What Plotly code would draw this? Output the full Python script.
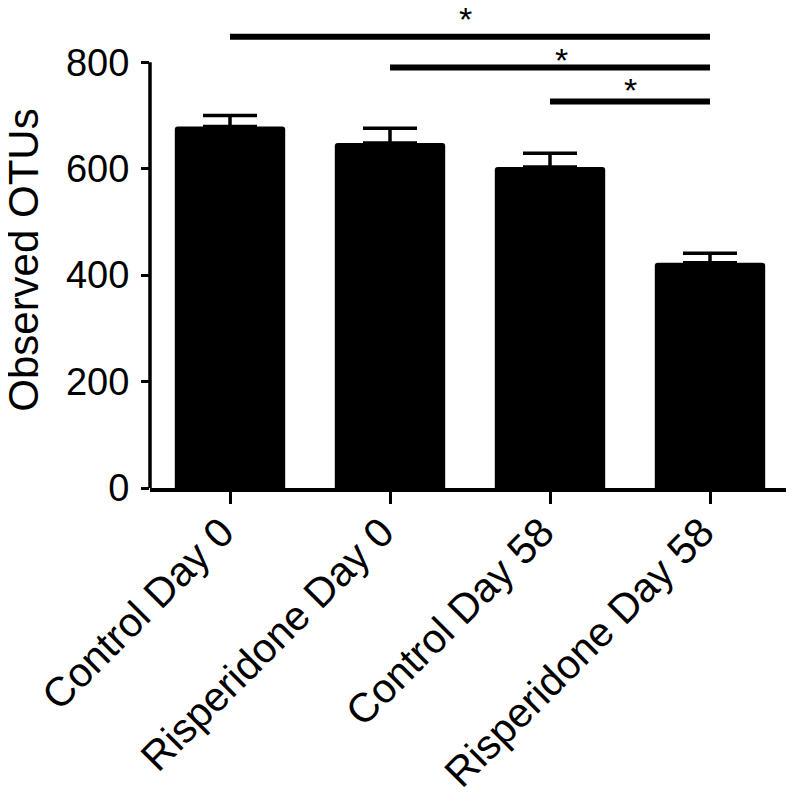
import plotly.graph_objects as go

# Observed OTUs per group (mean + SEM)
groups = ["Control Day 0", "Risperidone Day 0", "Control Day 58", "Risperidone Day 58"]
otus_mean = [679, 648, 603, 423]
otus_sem = [21, 28, 26, 18]

# Significance brackets: start group, end group, bracket height, star position
sig_start = ["Control Day 0", "Risperidone Day 0", "Control Day 58"]
sig_end = ["Risperidone Day 58", "Risperidone Day 58", "Risperidone Day 58"]
sig_y = [848, 790, 726]
star_x = [1.47, 2.07, 2.5]
star_y = [893, 816, 759]
sig_label = ["*", "*", "*"]

y_ticks = [0, 200, 400, 600, 800]
y_title = "Observed OTUs"

font = "Arial, Liberation Sans, sans-serif"

fig = go.Figure()
fig.add_trace(go.Bar(
    x=groups, y=otus_mean,
    marker=dict(color="black", line=dict(width=0), cornerradius=3),
    error_y=dict(type="data", array=otus_sem, arrayminus=[0] * len(otus_sem),
                 symmetric=False, color="black", thickness=3.5, width=27),
))

# y axis line only from 0 to 800 (Prism style)
fig.add_shape(type="line", xref="x domain", yref="y", x0=0, x1=0,
              y0=y_ticks[0], y1=y_ticks[-1], line=dict(color="black", width=3.5))

pos = {g: i for i, g in enumerate(groups)}
for s, e, y in zip(sig_start, sig_end, sig_y):
    fig.add_shape(type="line", xref="x", yref="y", x0=pos[s], x1=pos[e], y0=y, y1=y,
                  line=dict(color="black", width=6))
for sx, sy, lab in zip(star_x, star_y, sig_label):
    fig.add_annotation(x=sx, y=sy, xref="x", yref="y", text=lab,
                       showarrow=False, yanchor="middle", yshift=-6,
                       font=dict(family=font, size=34, color="black"))

# y axis title as a rotated annotation so it can sit close to the page edge
fig.add_annotation(x=-0.198, y=0.475, xref="paper", yref="paper", text=y_title,
                   textangle=-90, showarrow=False, xanchor="center", yanchor="middle",
                   font=dict(family=font, size=42, color="black"))

# page body has an 8px margin, so the figure is 8px smaller than the window
fig.update_layout(
    width=786, height=785,
    margin=dict(l=142, r=4, t=1, b=305),
    plot_bgcolor="white", paper_bgcolor="white",
    bargap=0.31, showlegend=False,
    font=dict(family=font, color="black"),
)
fig.update_xaxes(
    range=[-0.5, 3.5], showline=True, linecolor="black", linewidth=3.5,
    ticks="outside", ticklen=12, tickwidth=3, tickcolor="black",
    tickangle=-45, tickfont=dict(family=font, size=41, color="black"),
    ticklabelshift=-8, ticklabelstandoff=-12,
    showgrid=False, zeroline=False, automargin=False,
)
fig.update_yaxes(
    range=[0, 900], tickvals=y_ticks, showline=False,
    ticks="outside", ticklen=8, tickwidth=3, tickcolor="black",
    tickfont=dict(family=font, size=38, color="black"), ticklabelstandoff=4,
    showgrid=False, zeroline=False, automargin=False,
)

fig.write_html("out.html")
